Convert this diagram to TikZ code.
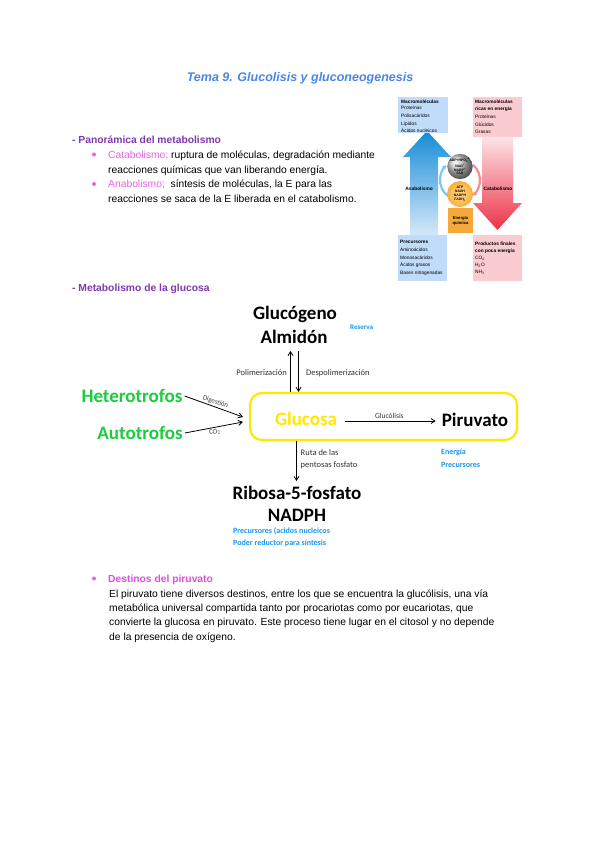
\documentclass[tikz,border=0pt]{standalone}
\usepackage{fontspec}
\setmainfont{Liberation Sans}
\newfontfamily\calib{Carlito}
\usetikzlibrary{arrows.meta,shadings}
\definecolor{titleb}{RGB}{74,134,232}
\definecolor{purp}{RGB}{128,57,170}
\definecolor{pinkc}{RGB}{228,100,230}
\definecolor{pinkd}{RGB}{222,80,222}
\definecolor{grn}{RGB}{25,205,60}
\definecolor{yel}{RGB}{255,232,0}
\definecolor{skyb}{RGB}{25,150,240}
\definecolor{boxb}{RGB}{192,220,250}
\definecolor{boxp}{RGB}{250,203,208}
\definecolor{orng}{RGB}{245,168,60}
\definecolor{ballo}{RGB}{250,175,60}
\begin{document}
\begin{tikzpicture}[x=1pt,y=-1pt,
  body/.style={anchor=base west, inner sep=0pt, font=\fontsize{10.3}{12}\selectfont},
  head/.style={anchor=base west, inner sep=0pt, font=\fontsize{10.3}{12}\selectfont\bfseries, text=purp},
  bul/.style={circle, fill=pinkc, inner sep=0pt, minimum size=4pt},
  big/.style={font=\calib\bfseries\fontsize{19}{22}\selectfont, inner sep=2pt},
  lab/.style={font=\calib\fontsize{8.5}{10}\selectfont, inner sep=0pt, anchor=west, text=black!80},
  blu/.style={font=\calib\bfseries\fontsize{8}{9.5}\selectfont, text=skyb, inner sep=0pt, anchor=west},
  arr/.style={-{Straight Barb[length=4pt,width=5pt]}, line width=0.8pt},
  mini/.style={font=\fontsize{4.8}{5}\selectfont, inner sep=0pt, anchor=base west},
  minib/.style={font=\fontsize{4.8}{5}\selectfont\bfseries, inner sep=0pt, anchor=base west},
  ctr/.style={font=\fontsize{3.4}{3.8}\selectfont\bfseries, inner sep=0pt, align=center}]
\useasboundingbox (0,0) rectangle (600,848);
\fill[white] (0,0) rectangle (600,848);

% title
\node[anchor=base, inner sep=0pt, font=\fontsize{12.5}{14}\selectfont\bfseries\itshape, text=titleb] (title) at (300,82) {Tema 9. Glucolisis y gluconeogenesis};

% panoramica
\node[head] (h1) at (72,143.5) {- Panorámica del metabolismo};
\node[bul] (b1) at (94,154.5) {};
\node[body] (l1) at (108,158) {{\color{pinkc}Catabolismo;} ruptura de moléculas, degradación mediante};
\node[body] (l2) at (108,173) {reacciones químicas que van liberando energía.};
\node[bul] (b2) at (94,184) {};
\node[body] (l3) at (108,187.5) {{\color{pinkc}Anabolismo;}\ \ síntesis de moléculas, la E\ para las};
\node[body] (l4) at (108,202.5) {reacciones se saca de la E liberada en el catabolismo.};

% mini figure
\shade[top color={rgb,255:red,20;green,140;blue,215}, bottom color={rgb,255:red,218;green,234;blue,250}]
  (410,237) -- (410,157) -- (403,157) -- (427,131) -- (451,157) -- (438,157) -- (438,237) -- cycle;
\shade[top color={rgb,255:red,252;green,228;blue,230}, bottom color={rgb,255:red,236;green,50;blue,72}]
  (482,137) -- (513,137) -- (513,203) -- (522,203) -- (497.5,230) -- (473,203) -- (482,203) -- cycle;
\fill[boxb] (398,97) rectangle (448,133);
\fill[boxp] (473,97) rectangle (522,137);
\fill[boxb] (398,235) rectangle (447,281);
\fill[boxp] (473,235) rectangle (522,281);
\node[minib] (m1) at (401,103) {Macromoléculas};
\node[mini] (m2) at (401,110) {Proteínas};
\node[mini] (m3) at (401,117.5) {Polisacáridos};
\node[mini] (m4) at (401,125) {Lípidos};
\node[mini] (m5) at (401,132.3) {Ácidos nucleicos};
\node[minib] (r1) at (475,103.5) {Macromoléculas};
\node[minib] (r2) at (475,111) {ricas en energía};
\node[mini] (r3) at (475,119) {Proteínas};
\node[mini] (r4) at (475,126.5) {Glúcidos};
\node[mini] (r5) at (475,134) {Grasas};
\node[minib] (p1) at (400,243.5) {Precursores};
\node[mini] (p2) at (400,251) {Aminoácidos};
\node[mini] (p3) at (400,259) {Monosacáridos};
\node[mini] (p4) at (400,266.5) {Ácidos grasos};
\node[mini] (p5) at (400,274.5) {Bases nitrogenadas};
\node[minib] (q1) at (475,245.5) {Productos finales};
\node[minib] (q2) at (475,252.5) {con poca energía};
\node[mini] (q3) at (475,259.5) {CO\textsubscript{2}};
\node[mini] (q4) at (475,266.5) {H\textsubscript{2}O};
\node[mini] (q5) at (475,273.5) {NH\textsubscript{3}};
\draw[line width=2.2pt, color={rgb,255:red,130;green,195;blue,240}, -{Latex[length=4pt,width=5pt]}] (460,180) ++(125:20) arc[start angle=125, end angle=228, radius=20];
\draw[line width=2.2pt, color={rgb,255:red,245;green,140;blue,150}, -{Latex[length=4pt,width=5pt]}] (460,180) ++(-50:20) arc[start angle=-50, end angle=52, radius=20];
\shade[ball color=gray!45] (460,166.5) circle (12.7);
\shade[inner color={rgb,255:red,255;green,215;blue,140}, outer color=ballo] (460,194) circle (13);
\node[ctr] (gs) at (460,166.5) {ADP+HPO\textsubscript{4}\textsuperscript{2-}\\NAD\textsuperscript{+}\\NADP\textsuperscript{+}\\FAD};
\node[ctr] (os) at (460,194) {ATP\\NADH\\NADPH\\FADH\textsubscript{2}};
\fill[orng] (448,208) rectangle (473,233);
\node[ctr, font=\fontsize{4.2}{5}\selectfont\bfseries] (eq) at (460.5,220.5) {Energía\\química};
\node[font=\fontsize{4.8}{5}\selectfont\bfseries, inner sep=0pt] (ana) at (419,189) {Anabolismo};
\node[font=\fontsize{4.8}{5}\selectfont\bfseries, inner sep=0pt] (cat) at (498,189) {Catabolismo};

% metabolismo glucosa
\node[head] (h2) at (72,291.5) {- Metabolismo de la glucosa};

\node[big] (gluc) at (295,314) {Glucógeno};
\node[big] (alm) at (294,337) {Almidón};
\node[blu, font=\calib\bfseries\fontsize{7}{8}\selectfont] (res) at (350,327) {Reserva};
\node[draw=yel, line width=2.2pt, rounded corners=12pt, minimum width=267pt, minimum height=47pt] (gbox) at (383.5,416.5) {};
\node[big, text=yel] (glu) at (306,419) {Glucosa};
\node[big] (piru) at (475,420) {Piruvato};
\node[big, text=grn] (het) at (132,396) {Heterotrofos};
\node[big, text=grn] (aut) at (140,433) {Autotrofos};
\node[big] (rib) at (297,493) {Ribosa-5-fosfato};
\node[big] (nad) at (297,515) {NADPH};

\coordinate (ux) at (290.5,0);
\coordinate (dx) at (298.5,0);
\coordinate (px) at (296.5,0);
\coordinate (t1) at (243,417);
\coordinate (t2) at (243,422);

\draw[arr, shorten >=5pt] (gbox.north -| ux) -- (alm.south -| ux);
\draw[arr, shorten <=5pt] (alm.south -| dx) -- (gbox.north -| dx);
\node[lab, anchor=east] (pol) at (287,373) {Polimerización};
\node[lab] (des) at (306,373) {Despolimerización};

\draw[arr] (het.east) -- (t1) node[midway, above=0.5pt, sloped, font=\calib\fontsize{7}{8}\selectfont, text=black!75, inner sep=1pt] (dig) {Digestión};
\draw[arr] (aut.east) -- (t2) node[midway, below=0.5pt, sloped, font=\calib\fontsize{7}{8}\selectfont, text=black!75, inner sep=1pt] (co2) {CO\textsubscript{2}};

\draw[arr, shorten <=6pt, shorten >=4pt] ([yshift=-2pt]glu.east) -- ([yshift=-2pt]glu.east -| piru.west) node[midway, above=1pt, font=\calib\fontsize{7.5}{8}\selectfont, text=black!80, inner sep=1pt] (gl) {Glucólisis};

\draw[arr, shorten >=3pt] (gbox.south -| px) -- (rib.north -| px);
\node[lab] (ru1) at (300.5,453) {Ruta de las};
\node[lab] (ru2) at (300.5,465) {pentosas fosfato};
\node[blu] (en) at (441,452.5) {Energía};
\node[blu] (pr) at (441,464.5) {Precursores};
\node[blu] (pa) at (233,531) {Precursores (acidos nucleicos};
\node[blu] (pb) at (233,543) {Poder reductor para síntesis};

% destinos
\node[bul] (b3) at (94,578.5) {};
\node[anchor=base west, inner sep=0pt, font=\fontsize{10.3}{12}\selectfont\bfseries, text=pinkd] (d0) at (108,582.5) {Destinos del piruvato};
\node[body] (d1) at (109,597) {El piruvato tiene diversos destinos, entre los que se encuentra la glucólisis, una vía};
\node[body] (d2) at (109,611) {metabólica universal compartida tanto por procariotas como por eucariotas, que};
\node[body] (d3) at (109,625.5) {convierte la glucosa en piruvato. Este proceso tiene lugar en el citosol y no depende};
\node[body] (d4) at (109,640) {de la presencia de oxígeno.};
\end{tikzpicture}
\end{document}
